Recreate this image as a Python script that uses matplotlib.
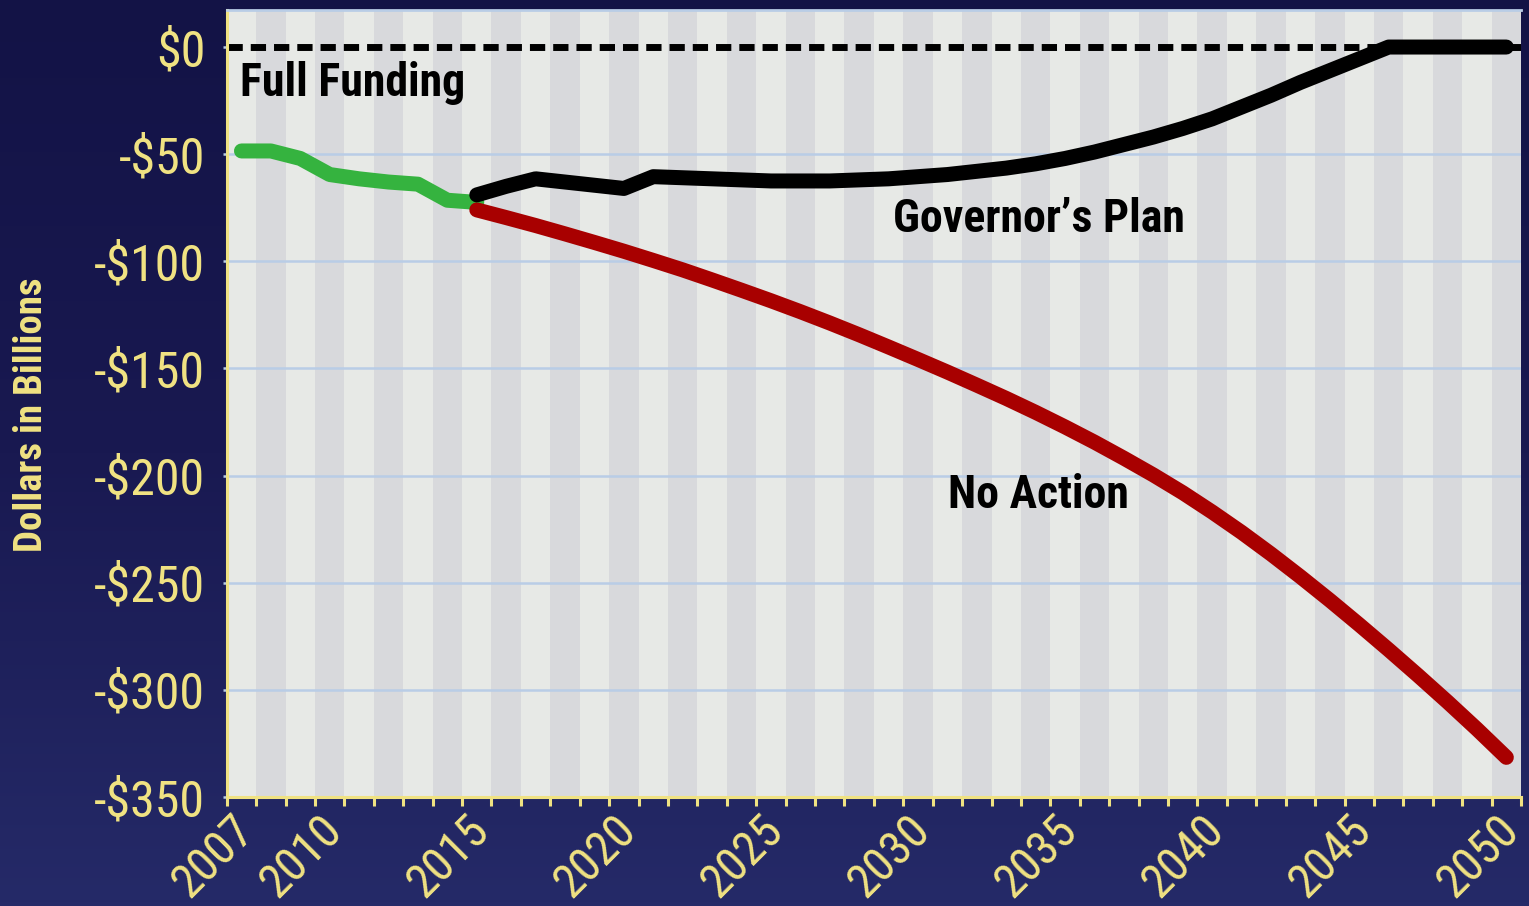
import numpy as np
import matplotlib
matplotlib.use('Agg')
import matplotlib.pyplot as plt
import matplotlib.transforms as mtrans
from matplotlib.colors import LinearSegmentedColormap

# data (billions of dollars)
hist_years = list(range(2007, 2016))
hist_vals = [-48.5, -48.5, -52, -59.5, -61.5, -63, -64, -71.5, -72.5]

proj_years = list(range(2015, 2051))
gov_vals = [-69, -65, -61.5, -63, -64.5, -66, -60.5, -61, -61.5, -62, -62.5,
            -62.5, -62.5, -62, -61.5, -60.5, -59.5, -58, -56.5, -54.5, -52,
            -49, -45.5, -42, -38, -33.5, -28, -22.5, -16.5, -11, -5.5,
            0, 0, 0, 0, 0]
no_action_vals = [-76, -79.6, -83.3, -87.2, -91.2, -95.3, -99.6, -104, -108.7,
                  -113.5, -118.4, -123.5, -128.8, -134.3, -140, -145.8, -151.7,
                  -157.8, -164, -170.5, -177.3, -184.4, -191.9, -199.7, -208,
                  -217, -226.5, -236.6, -247.2, -258.2, -269.6, -281.3, -293.3,
                  -305.6, -318.3, -331.5]

ytick_vals = [0, -50, -100, -150, -200, -250, -300, -350]
ytick_labels = ['\\$0', '-\\$50', '-\\$100', '-\\$150', '-\\$200', '-\\$250', '-\\$300', '-\\$350']
xtick_years = [2007, 2010, 2015, 2020, 2025, 2030, 2035, 2040, 2045, 2050]

YELLOW = '#f0e282'
GRID = '#b9cde6'
COND = ['Roboto Condensed', 'DejaVu Sans']

fig = plt.figure(figsize=(15.29, 9.06), dpi=100)

# navy gradient background
bg = fig.add_axes([0, 0, 1, 1], zorder=-10)
cmap = LinearSegmentedColormap.from_list('navy', ['#131346', '#191951', '#252a68'])
bg.imshow(np.linspace(0, 1, 256).reshape(-1, 1), aspect='auto', cmap=cmap,
          extent=[0, 1, 0, 1], origin='upper')
bg.axis('off')

ax = fig.add_axes([0.1483, 0.1203, 0.8465, 0.8687])
ax.set_xlim(2006.5, 2050.5)
ax.set_ylim(-350, 17.3)

# alternating year stripes
for i, yr in enumerate(range(2007, 2051)):
    ax.axvspan(yr - 0.5, yr + 0.5, color='#e7e9e6' if i % 2 == 0 else '#d8d9dc',
               lw=0, zorder=0)

for v in ytick_vals[1:-1]:
    ax.axhline(v, color=GRID, lw=1.8, zorder=1)

ax.axhline(0, color='black', lw=5, linestyle=(0, (2.2, 1.15)),
           dash_capstyle='butt', zorder=2)

lw = 10.8
ax.plot(hist_years, hist_vals, color='#35b33f', lw=lw, solid_capstyle='round',
        solid_joinstyle='round', zorder=3)
ax.plot(proj_years, no_action_vals, color='#a80000', lw=lw, solid_capstyle='round',
        solid_joinstyle='round', zorder=4)
ax.plot(proj_years, gov_vals, color='black', lw=lw, solid_capstyle='round',
        solid_joinstyle='round', zorder=5)

ax.text(2006.95, -22.9, 'Full Funding', fontsize=33, fontweight='bold',
        family=COND, ha='left', va='baseline', zorder=6)
ax.text(2029.16, -86.3, 'Governor\u2019s Plan', fontsize=33, fontweight='bold',
        family=COND, ha='left', va='baseline', zorder=6)
ax.text(2031.03, -215, 'No Action', fontsize=33, fontweight='bold',
        family=COND, ha='left', va='baseline', zorder=6)

# axes styling
for s in ['left', 'bottom']:
    ax.spines[s].set_color(YELLOW)
    ax.spines[s].set_linewidth(2.2)
ax.spines['top'].set_color(GRID)
ax.spines['top'].set_linewidth(2)
ax.spines['right'].set_visible(False)

ax.set_yticks(ytick_vals)
ax.set_yticklabels(ytick_labels)
ax.tick_params(axis='y', colors=GRID, length=3, width=1.8, pad=12.5,
               labelcolor=YELLOW, labelsize=36)

ax.set_xticks(xtick_years)
ax.set_xticklabels([str(y) for y in xtick_years])
ax.set_xticks(np.arange(2006.5, 2051, 1), minor=True)
ax.tick_params(axis='x', which='major', length=0, pad=19, labelcolor=YELLOW,
               labelsize=34.5)
ax.tick_params(axis='x', which='minor', length=6.5, width=2.2, color=YELLOW,
               direction='out')

offset = mtrans.ScaledTranslation(4 / 72, 0, fig.dpi_scale_trans)
for lab in ax.get_xticklabels():
    lab.set_rotation(45)
    lab.set_ha('right')
    lab.set_va('center')
    lab.set_rotation_mode('anchor')
    lab.set_family(COND)
    lab.set_transform(lab.get_transform() + offset)
for lab in ax.get_yticklabels():
    lab.set_family(COND)

fig.text(31 / 1529, 1 - 415 / 906, 'Dollars in Billions', rotation=90,
         ha='center', va='center', color=YELLOW, fontsize=28,
         fontweight='bold', family=COND)

fig.savefig('out.png', dpi=100)
